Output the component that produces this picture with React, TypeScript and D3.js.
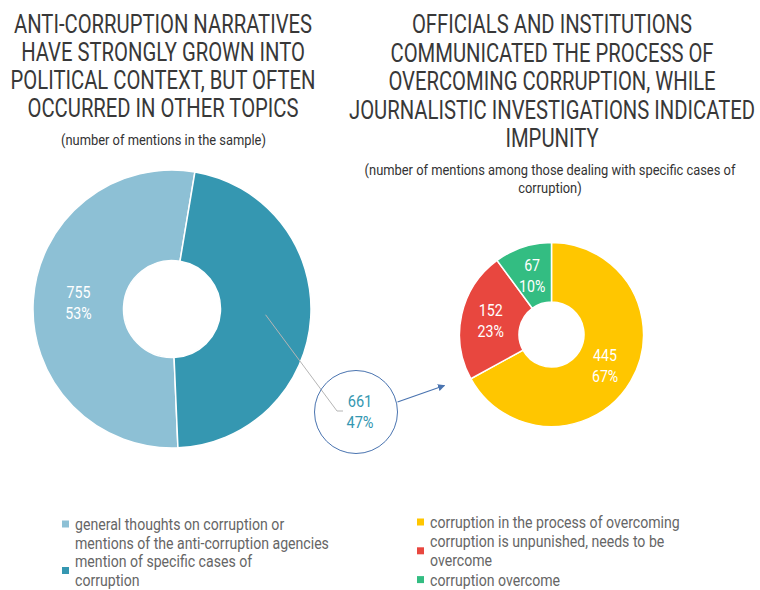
import { useMemo } from "react";
import * as d3 from "d3";

// Two donut charts with a callout: mentions in the sample, and a drill-down of the
// "specific cases" slice. Text uses Roboto squeezed horizontally to look condensed.

const W = 760;
const H = 590;
const FONT = "Roboto, 'Noto Sans', sans-serif";

const leftTitle = [
  "ANTI-CORRUPTION NARRATIVES",
  "HAVE STRONGLY GROWN INTO",
  "POLITICAL CONTEXT, BUT OFTEN",
  "OCCURRED IN OTHER TOPICS",
];
const leftSubtitle = ["(number of mentions in the sample)"];
const rightTitle = [
  "OFFICIALS AND INSTITUTIONS",
  "COMMUNICATED THE PROCESS OF",
  "OVERCOMING CORRUPTION, WHILE",
  "JOURNALISTIC INVESTIGATIONS INDICATED",
  "IMPUNITY",
];
const rightSubtitle = [
  "(number of mentions among those dealing with specific cases of",
  "corruption)",
];

const leftCategories = [
  ["general thoughts on corruption or", "mentions of the anti-corruption agencies"],
  ["mention of specific cases of", "corruption"],
];
const leftValues = [755, 661];
const leftShares = ["53%", "47%"];
const leftColors = ["#8dc0d5", "#3597b1"];

const rightCategories = [
  ["corruption in the process of overcoming"],
  ["corruption is unpunished, needs to be", "overcome"],
  ["corruption overcome"],
];
const rightValues = [445, 152, 67];
const rightShares = ["67%", "23%", "10%"];
const rightColors = ["#ffc600", "#e8473f", "#33bd82"];

const deg = Math.PI / 180;

function CText({
  x,
  y,
  size,
  fill,
  sx = 0.86,
  anchor = "middle",
  children,
}: {
  x: number;
  y: number;
  size: number;
  fill: string;
  sx?: number;
  anchor?: "start" | "middle" | "end";
  children: string;
}) {
  return (
    <g transform={`translate(${x},${y}) scale(${sx},1)`}>
      <text textAnchor={anchor} fontFamily={FONT} fontSize={size} fill={fill}>
        {children}
      </text>
    </g>
  );
}

function Donut({
  cx,
  cy,
  r0,
  r1,
  values,
  shares,
  colors,
  start,
  hideLabel,
}: {
  cx: number;
  cy: number;
  r0: number;
  r1: number;
  values: number[];
  shares: string[];
  colors: string[];
  start: number;
  hideLabel?: number;
}) {
  const arcs = useMemo(
    () =>
      d3
        .pie<number>()
        .sort(null)
        .startAngle(start)
        .endAngle(start + 2 * Math.PI)(values),
    [values, start],
  );
  const arc = d3.arc<d3.PieArcDatum<number>>().innerRadius(r0).outerRadius(r1);
  return (
    <g transform={`translate(${cx},${cy})`}>
      {arcs.map((a, i) => (
        <path
          key={i}
          d={arc(a) ?? ""}
          fill={colors[i]}
          stroke="#fff"
          strokeWidth={1.5}
        />
      ))}
      {arcs.map((a, i) => {
        if (i === hideLabel) return null;
        const [lx, ly] = arc.centroid(a);
        return (
          <g key={i}>
            <CText x={lx} y={ly - 4.75} size={16.5} fill="#fff">
              {String(values[i])}
            </CText>
            <CText x={lx} y={ly + 16.25} size={16.5} fill="#fff">
              {shares[i]}
            </CText>
          </g>
        );
      })}
    </g>
  );
}

function Legend({
  x,
  y,
  pitch,
  sx,
  categories,
  colors,
  firstOnTop,
}: {
  x: number;
  y: number;
  pitch: number;
  sx: number;
  categories: string[][];
  colors: string[];
  firstOnTop?: boolean;
}) {
  let row = 0;
  return (
    <g>
      {categories.map((lines, i) => {
        const first = row;
        row += lines.length;
        const mid = firstOnTop && i === 0 ? first : (first + row - 1) / 2;
        return (
          <g key={i}>
            <rect
              x={x - 13}
              y={y + mid * pitch - 9.5}
              width={7}
              height={7}
              fill={colors[i]}
            />
            {lines.map((t, j) => (
              <CText
                key={t}
                x={x}
                y={y + (first + j) * pitch}
                size={17}
                sx={sx}
                fill="#666"
                anchor="start"
              >
                {t}
              </CText>
            ))}
          </g>
        );
      })}
    </g>
  );
}

export default function App() {
  const L = { cx: 172, cy: 309, r0: 48.5, r1: 139 };
  const R = { cx: 551.5, cy: 334.5, r0: 32.5, r1: 92 };

  const leftTotal = d3.sum(leftValues);
  const leftStart = (9.5 - (leftValues[0] / leftTotal) * 360 + 360) * deg;

  // callout anchor = centroid of the "specific cases" slice
  const leftArcs = d3
    .pie<number>()
    .sort(null)
    .startAngle(leftStart)
    .endAngle(leftStart + 2 * Math.PI)(leftValues);
  const [ax, ay] = d3
    .arc<d3.PieArcDatum<number>>()
    .innerRadius(L.r0)
    .outerRadius(L.r1)
    .centroid(leftArcs[1]);
  const bubble = { cx: 356, cy: 412, r: 41.5 };

  const titleColor = "#383838";

  return (
    <svg
      width={W}
      height={H}
      style={{ position: "absolute", left: 0, top: 0, background: "#fff" }}
    >
      <defs>
        <marker
          id="arrow"
          viewBox="0 0 10 10"
          refX={9}
          refY={5}
          markerWidth={6}
          markerHeight={6}
          orient="auto"
        >
          <path d="M0,0 L10,5 L0,10 z" fill="#4a74b0" />
        </marker>
      </defs>

      {leftTitle.map((t, i) => (
        <CText key={t} x={163} y={33 + i * 28} size={25} sx={0.81} fill={titleColor}>
          {t}
        </CText>
      ))}
      {leftSubtitle.map((t, i) => (
        <CText key={t} x={163.5} y={145 + i * 18} size={15} fill="#333">
          {t}
        </CText>
      ))}
      {rightTitle.map((t, i) => (
        <CText key={t} x={552} y={33 + i * 28.5} size={25} sx={0.81} fill={titleColor}>
          {t}
        </CText>
      ))}
      {rightSubtitle.map((t, i) => (
        <CText key={t} x={550} y={175 + i * 18} size={15} fill="#333">
          {t}
        </CText>
      ))}

      <Donut
        {...L}
        values={leftValues}
        shares={leftShares}
        colors={leftColors}
        start={leftStart}
        hideLabel={1}
      />
      <Donut
        {...R}
        values={rightValues}
        shares={rightShares}
        colors={rightColors}
        start={0}
      />

      {/* callout for the "specific cases" slice */}
      <polyline
        points={`${L.cx + ax},${L.cy + ay} ${bubble.cx - 19},${bubble.cy - 1} ${bubble.cx - 13},${bubble.cy - 1}`}
        fill="none"
        stroke="#b5b5b5"
        strokeWidth={1}
      />
      <circle
        cx={bubble.cx}
        cy={bubble.cy}
        r={bubble.r}
        fill="none"
        stroke="#4a74b0"
        strokeWidth={1}
      />
      <CText x={bubble.cx + 4} y={bubble.cy - 5} size={17} fill="#3597b1">
        {String(leftValues[1])}
      </CText>
      <CText x={bubble.cx + 4} y={bubble.cy + 16} size={17} fill="#3597b1">
        {leftShares[1]}
      </CText>
      <line
        x1={bubble.cx + bubble.r}
        y1={bubble.cy - 10}
        x2={R.cx - R.r1 - 15}
        y2={R.cy + 51}
        stroke="#4a74b0"
        strokeWidth={1.2}
        markerEnd="url(#arrow)"
      />

      <Legend
        x={75}
        y={530}
        pitch={18.6}
        sx={0.83}
        categories={leftCategories}
        colors={leftColors}
        firstOnTop
      />
      <Legend
        x={430}
        y={528}
        pitch={19.2}
        sx={0.83}
        categories={rightCategories}
        colors={rightColors}
      />
    </svg>
  );
}
